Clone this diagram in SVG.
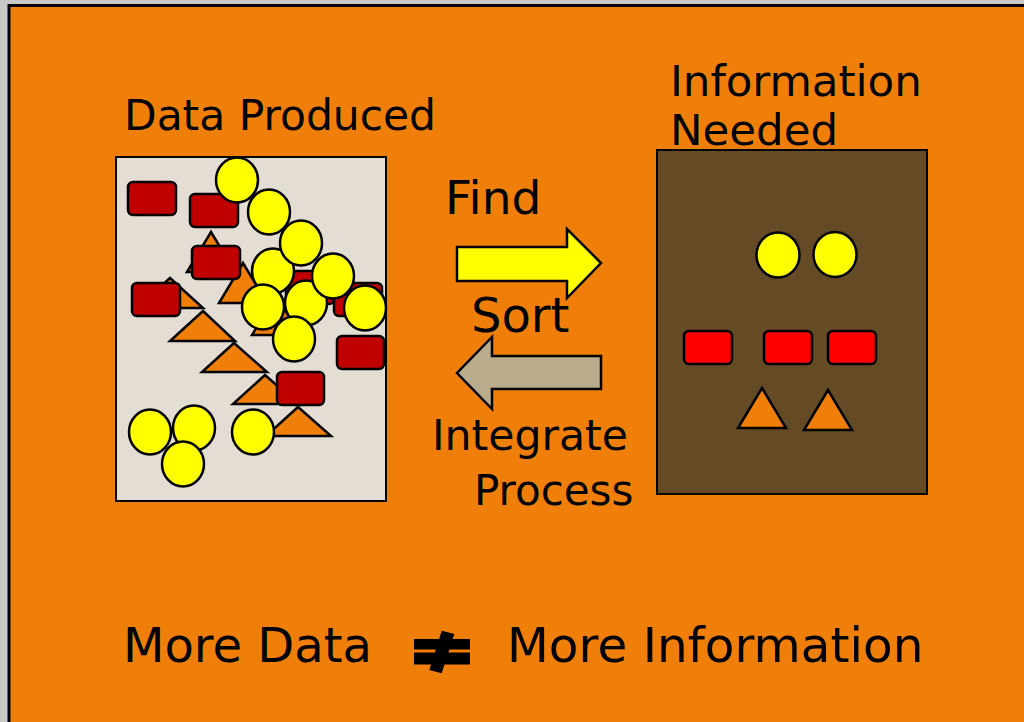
<svg xmlns="http://www.w3.org/2000/svg" width="1024" height="722" viewBox="0 0 1024 722">
<style>
text{font-family:"DejaVu Sans","Verdana",sans-serif;fill:#000}
.c{fill:#ffff00;stroke:#000;stroke-width:2.5}
.r{fill:#c00000;stroke:#000;stroke-width:2.5}
.rr{fill:#ff0000;stroke:#000;stroke-width:2.5}
.t{fill:#f07f09;stroke:#000;stroke-width:2.5;stroke-linejoin:miter}
</style>
<rect width="1024" height="722" fill="#c8c8c8"/>
<rect x="9" y="5.5" width="1030" height="730" fill="#f07f09" stroke="#000" stroke-width="3"/>

<g id="data-produced">
<text x="124" y="130" font-size="42.4">Data Produced</text>
<rect x="116" y="157" width="270" height="344" fill="#e3ddd3" stroke="#000" stroke-width="2"/>
<polygon class="t" points="211,232 235,272 187,272"/>
<polygon class="t" points="170,278 203,308 137,308"/>
<polygon class="t" points="243,263 267,303 219,303"/>
<polygon class="t" points="276,295 300,335 252,335"/>
<polygon class="t" points="203,311 235,341 170,341"/>
<polygon class="t" points="234,343 267,372 202,372"/>
<polygon class="t" points="265,375 298,404 233,404"/>
<polygon class="t" points="298,407 331,436 266,436"/>
<rect class="r" x="128" y="182" width="48" height="33" rx="5"/>
<rect class="r" x="190" y="194" width="48" height="33" rx="5"/>
<rect class="r" x="192" y="246" width="48" height="33" rx="5"/>
<rect class="r" x="132" y="283" width="48" height="33" rx="5"/>
<rect class="r" x="286" y="271" width="48" height="33" rx="5"/>
<rect class="r" x="334" y="283" width="48" height="33" rx="5"/>
<rect class="r" x="337" y="336" width="47" height="33" rx="5"/>
<rect class="r" x="277" y="372" width="47" height="33" rx="5"/>
<ellipse class="c" cx="237" cy="180" rx="21" ry="22.5"/>
<ellipse class="c" cx="269" cy="212" rx="21" ry="22.5"/>
<ellipse class="c" cx="273" cy="271" rx="21" ry="22.5"/>
<ellipse class="c" cx="301" cy="243" rx="21" ry="22.5"/>
<ellipse class="c" cx="306" cy="303" rx="21" ry="22.5"/>
<ellipse class="c" cx="333" cy="276" rx="21" ry="22.5"/>
<ellipse class="c" cx="263" cy="307" rx="21" ry="22.5"/>
<ellipse class="c" cx="365" cy="308" rx="21" ry="22.5"/>
<ellipse class="c" cx="294" cy="339" rx="21" ry="22.5"/>
<ellipse class="c" cx="150" cy="432" rx="21" ry="22.5"/>
<ellipse class="c" cx="194" cy="428" rx="21" ry="22.5"/>
<ellipse class="c" cx="183" cy="464" rx="21" ry="22.5"/>
<ellipse class="c" cx="253" cy="432" rx="21" ry="22.5"/>
</g>

<g id="information-needed">
<text x="670" y="96" font-size="43.5">Information</text>
<text x="670" y="145" font-size="43.5">Needed</text>
<rect x="657" y="150" width="270" height="344" fill="#644b26" stroke="#000" stroke-width="2"/>
<ellipse class="c" cx="778" cy="255" rx="21.5" ry="22.5"/>
<ellipse class="c" cx="835" cy="254.5" rx="21.5" ry="22.5"/>
<rect class="rr" x="684" y="331" width="48" height="33" rx="5"/>
<rect class="rr" x="764" y="331" width="48" height="33" rx="5"/>
<rect class="rr" x="828" y="331" width="48" height="33" rx="5"/>
<polygon class="t" points="762,388 786,428 738,428"/>
<polygon class="t" points="828,390 852,430 804,430"/>
</g>

<g id="connectors">
<polygon points="457,247 567,247 567,229 601,263 567,298 567,281 457,281" fill="#ffff00" stroke="#000" stroke-width="2.5"/>
<polygon points="601,356 492,356 492,337 457,373 492,409 492,389 601,389" fill="#b9ab8b" stroke="#000" stroke-width="2.5"/>
</g>

<g id="labels">
<text x="445" y="214" font-size="47">Find</text>
<text x="471" y="332" font-size="48">Sort</text>
<text x="432" y="450" font-size="42.6">Integrate</text>
<text x="474" y="505" font-size="42">Process</text>
</g>

<g id="equation">
<text x="123" y="662" font-size="48">More Data</text>
<rect x="414" y="639" width="56" height="10.5"/>
<rect x="414" y="652.5" width="56" height="12"/>
<polygon points="441.7,630.7 454.3,634 441.7,673.3 429.3,670"/>
<text x="507" y="662" font-size="48.5">More Information</text>
</g>
</svg>
